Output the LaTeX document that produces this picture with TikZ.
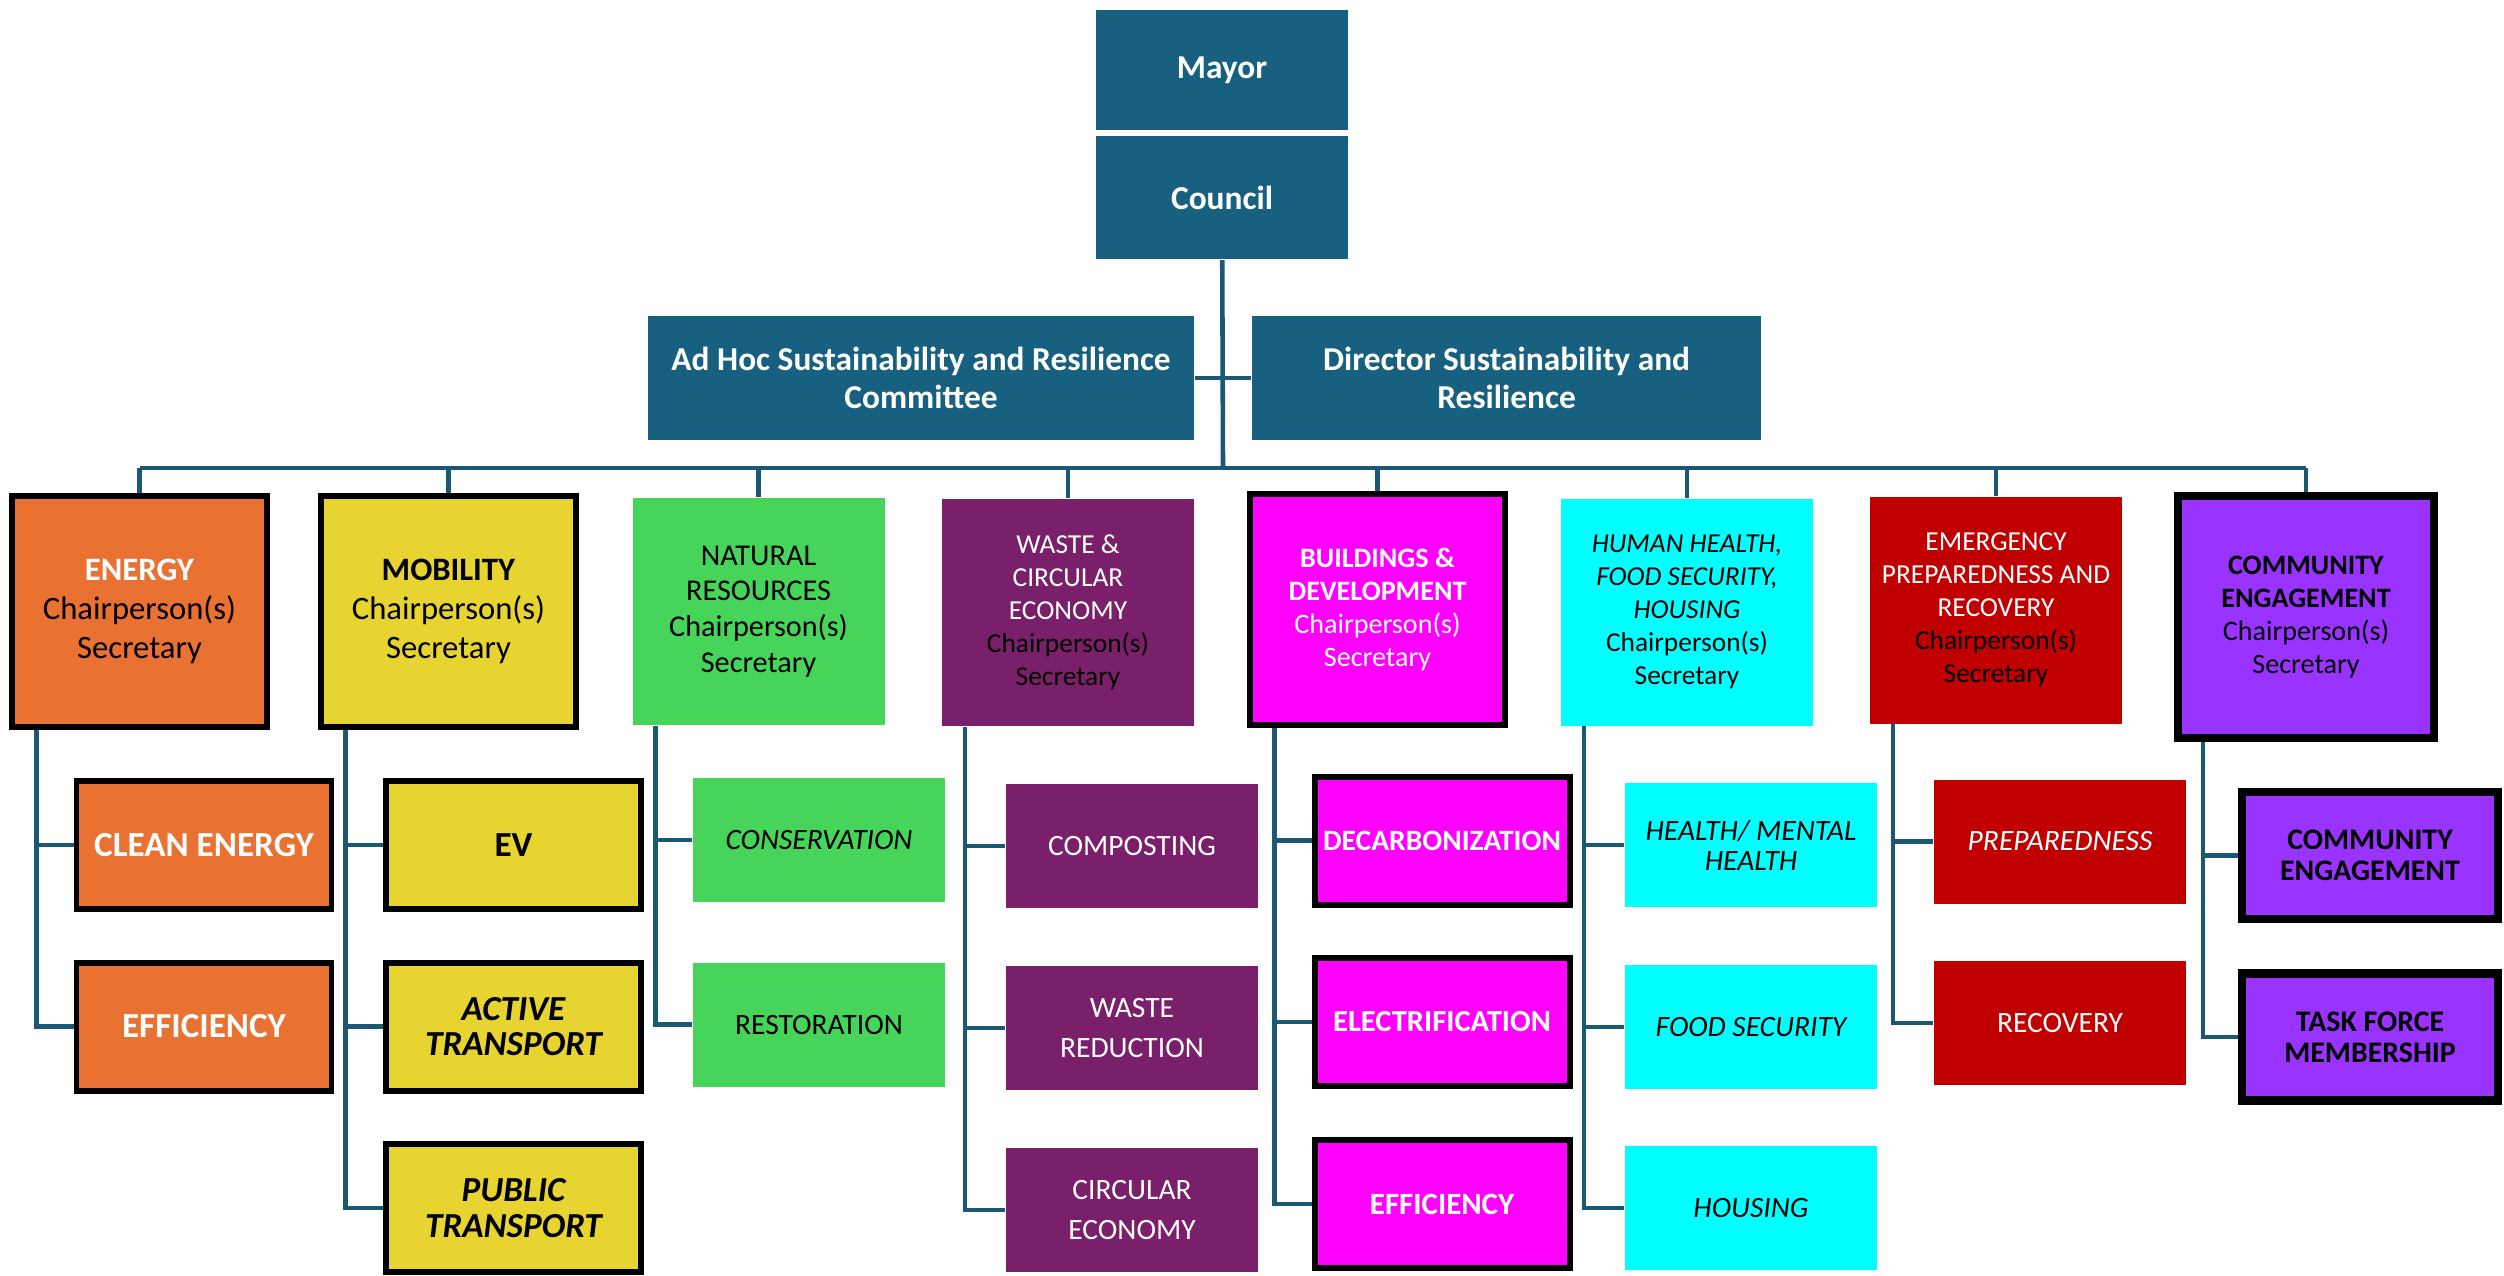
\documentclass[tikz,border=0pt]{standalone}
\usepackage{fontspec}
\setmainfont{Carlito}
\usepackage{tikz}
\usetikzlibrary{positioning,backgrounds}

\definecolor{navy}{HTML}{17607F}
\definecolor{linkblue}{HTML}{1A5874}
\definecolor{energyorange}{HTML}{E97132}
\definecolor{mobyellow}{HTML}{E8D430}
\definecolor{leafgreen}{HTML}{47D45A}
\definecolor{plum}{HTML}{7A1F69}
\definecolor{hotpink}{HTML}{FF00FF}
\definecolor{aqua}{HTML}{00FFFF}
\definecolor{alarmred}{HTML}{C00000}
\definecolor{violet}{HTML}{9933FF}

\newcommand*{\CS}{Chairperson(s)\\Secretary}
\newcommand*{\wt}[1]{\textcolor{white}{#1}}

\tikzset{
  lead/.style={rectangle, fill=navy, text=white, align=center, inner sep=2pt,
    font=\bfseries\fontsize{9.5}{11}\selectfont},
  group/.style={rectangle, align=center, inner sep=1pt,
    minimum width=2.52cm, minimum height=2.27cm, font=\fontsize{7.8}{9.4}\selectfont},
  groupthick/.style={group, draw=black, line width=1.7pt,
    minimum width=2.55cm, minimum height=2.31cm},
  task/.style={rectangle, align=center, inner sep=1pt,
    minimum width=2.52cm, minimum height=1.24cm, font=\fontsize{8.4}{10}\selectfont},
  taskthick/.style={task, draw=black, line width=1.7pt,
    minimum width=2.55cm, minimum height=1.28cm, font=\bfseries\fontsize{10}{10.5}\selectfont},
  link/.style={draw=linkblue, line width=1.3pt},
}

\begin{document}
\begin{tikzpicture}
      \useasboundingbox (0,0) rectangle (25.04,-12.75);
      % top of the chart
      \node[lead, minimum width=2.52cm, minimum height=1.20cm] (mayor) at (12.22,-0.70) {Mayor};
      \node[lead, below=0.05cm of mayor, minimum width=2.52cm, minimum height=1.23cm] (council) {Council};
      \node[lead, minimum width=5.46cm, minimum height=1.24cm] (adhoc) at (9.21,-3.78) {Ad Hoc Sustainability and Resilience\\Committee};
      \node[lead, minimum width=5.09cm, minimum height=1.24cm] (director) at (15.065,-3.78) {Director Sustainability and\\Resilience};
      \coordinate (bus) at (12.23,-4.68);

      % task forces
      \node[groupthick, fill=energyorange, font=\fontsize{9.3}{11.2}\selectfont] (energy) at (1.395,-6.115) {\wt{\textbf{ENERGY}}\\\CS};
      \node[groupthick, fill=mobyellow, font=\fontsize{9.3}{11.2}\selectfont] (mobility) at (4.485,-6.115) {\textbf{MOBILITY}\\\CS};
      \node[group, fill=leafgreen, font=\fontsize{8.6}{10.2}\selectfont] (natural) at (7.585,-6.115) {NATURAL\\RESOURCES\\\CS};
      \node[group, fill=plum] (waste) at (10.68,-6.125) {\wt{WASTE \&}\\\wt{CIRCULAR}\\\wt{ECONOMY}\\\CS};
      \node[groupthick, fill=hotpink, text=white, font=\fontsize{8}{9.4}\selectfont] (buildings) at (13.775,-6.095) {\textbf{BUILDINGS \&}\\\textbf{DEVELOPMENT}\\\CS};
      \node[group, fill=aqua] (health) at (16.87,-6.12) {\textit{HUMAN HEALTH,}\\\textit{FOOD SECURITY,}\\\textit{HOUSING}\\\CS};
      \node[group, fill=alarmred] (emergency) at (19.96,-6.10) {\wt{EMERGENCY}\\\wt{PREPAREDNESS AND}\\\wt{RECOVERY}\\\CS};
      \node[groupthick, fill=violet, line width=2.3pt, minimum width=2.56cm, minimum height=2.42cm, font=\fontsize{8}{9.4}\selectfont] (community) at (23.06,-6.17) {\textbf{COMMUNITY}\\\textbf{ENGAGEMENT}\\\CS};

      % working groups
      \node[taskthick, fill=energyorange, text=white] (clean) at (2.04,-8.45) {CLEAN ENERGY};
      \node[taskthick, fill=energyorange, text=white] (effic) at (2.04,-10.265) {EFFICIENCY};
      \node[taskthick, fill=mobyellow] (ev) at (5.135,-8.45) {EV};
      \node[taskthick, fill=mobyellow, font=\bfseries\itshape\fontsize{10}{10}\selectfont] (active) at (5.135,-10.265) {ACTIVE\\TRANSPORT};
      \node[taskthick, fill=mobyellow, font=\bfseries\itshape\fontsize{10}{10}\selectfont] (public) at (5.135,-12.08) {PUBLIC\\TRANSPORT};
      \node[task, fill=leafgreen] (conserv) at (8.19,-8.40) {\textit{CONSERVATION}};
      \node[task, fill=leafgreen] (restor) at (8.19,-10.245) {RESTORATION};
      \node[task, fill=plum, text=white] (compost) at (11.32,-8.46) {COMPOSTING};
      \node[task, fill=plum, text=white, font=\fontsize{8.4}{11.5}\selectfont] (reduction) at (11.32,-10.28) {WASTE\\REDUCTION};
      \node[task, fill=plum, text=white, font=\fontsize{8.4}{11.5}\selectfont] (circular) at (11.32,-12.10) {CIRCULAR\\ECONOMY};
      \node[taskthick, fill=hotpink, text=white, font=\bfseries\fontsize{8.4}{10}\selectfont] (decarb) at (14.42,-8.405) {DECARBONIZATION};
      \node[taskthick, fill=hotpink, text=white, font=\bfseries\fontsize{8.7}{10}\selectfont] (electric) at (14.42,-10.22) {ELECTRIFICATION};
      \node[taskthick, fill=hotpink, text=white, font=\bfseries\fontsize{8.8}{10}\selectfont] (beffic) at (14.42,-12.04) {EFFICIENCY};
      \node[task, fill=aqua, font=\itshape\fontsize{8.4}{8.6}\selectfont] (mental) at (17.51,-8.45) {HEALTH/ MENTAL\\HEALTH};
      \node[task, fill=aqua, font=\itshape\fontsize{8.4}{10}\selectfont] (food) at (17.51,-10.27) {FOOD SECURITY};
      \node[task, fill=aqua, font=\itshape\fontsize{8.4}{10}\selectfont] (housing) at (17.51,-12.08) {HOUSING};
      \node[task, fill=alarmred, text=white, font=\itshape\fontsize{8.4}{10}\selectfont] (prepared) at (20.60,-8.415) {PREPAREDNESS};
      \node[task, fill=alarmred, text=white] (recovery) at (20.60,-10.23) {RECOVERY};
      \node[taskthick, fill=violet, line width=2.3pt, minimum width=2.56cm, minimum height=1.27cm, font=\bfseries\fontsize{8.5}{8.8}\selectfont] (engage) at (23.70,-8.555) {COMMUNITY\\ENGAGEMENT};
      \node[taskthick, fill=violet, line width=2.3pt, minimum width=2.56cm, minimum height=1.27cm, font=\bfseries\fontsize{8.5}{8.8}\selectfont] (taskforce) at (23.70,-10.37) {TASK FORCE\\MEMBERSHIP};

      \begin{scope}[on background layer]
        \draw[link] (council) -- (bus);
        \draw[link] (adhoc) -- (director);
        \draw[link] (bus -| energy) -- (bus -| community);
        \draw[link]
          (bus -| energy) -- (energy)
          (bus -| mobility) -- (mobility)
          (bus -| natural) -- (natural)
          (bus -| waste) -- (waste)
          (bus -| buildings) -- (buildings)
          (bus -| health) -- (health)
          (bus -| emergency) -- (emergency)
          (bus -| community) -- (community);
        \draw[link]
          ([xshift=-1.03cm]energy.south) |- (clean)
          ([xshift=-1.03cm]energy.south) |- (effic)
          ([xshift=-1.03cm]mobility.south) |- (ev)
          ([xshift=-1.03cm]mobility.south) |- (active)
          ([xshift=-1.03cm]mobility.south) |- (public)
          ([xshift=-1.03cm]natural.south) |- (conserv)
          ([xshift=-1.03cm]natural.south) |- (restor)
          ([xshift=-1.03cm]waste.south) |- (compost)
          ([xshift=-1.03cm]waste.south) |- (reduction)
          ([xshift=-1.03cm]waste.south) |- (circular)
          ([xshift=-1.03cm]buildings.south) |- (decarb)
          ([xshift=-1.03cm]buildings.south) |- (electric)
          ([xshift=-1.03cm]buildings.south) |- (beffic)
          ([xshift=-1.03cm]health.south) |- (mental)
          ([xshift=-1.03cm]health.south) |- (food)
          ([xshift=-1.03cm]health.south) |- (housing)
          ([xshift=-1.03cm]emergency.south) |- (prepared)
          ([xshift=-1.03cm]emergency.south) |- (recovery)
          ([xshift=-1.03cm]community.south) |- (engage)
          ([xshift=-1.03cm]community.south) |- (taskforce);
      \end{scope}
\end{tikzpicture}
\end{document}
